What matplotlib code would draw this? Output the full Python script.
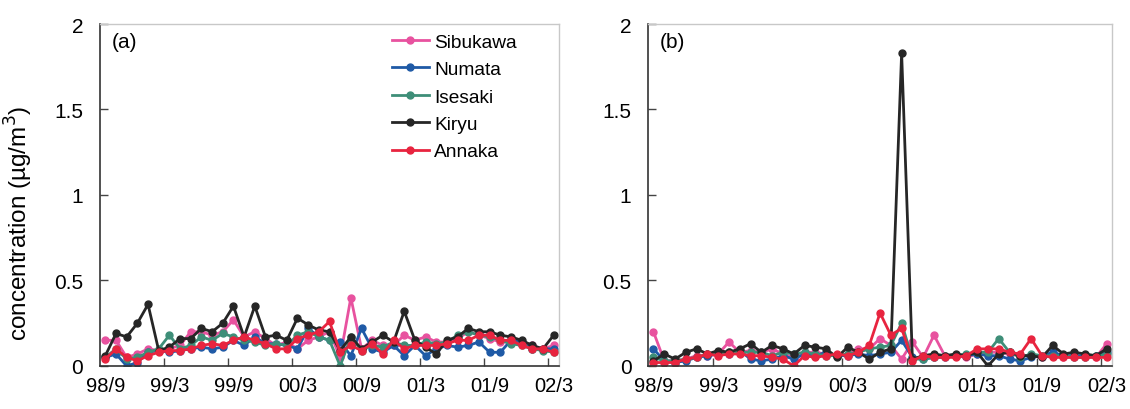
import numpy as np
import matplotlib
matplotlib.use("Agg")
import matplotlib.pyplot as plt

plt.rcParams['font.family'] = ['Liberation Sans', 'DejaVu Sans']

# Month labels (every 6 months), data are monthly from 98/9 to 02/3
tick_labels = ["98/9", "99/3", "99/9", "00/3", "00/9", "01/3", "01/9", "02/3"]
n_months = 43

stations = ["Sibukawa", "Numata", "Isesaki", "Kiryu", "Annaka"]
colors = ["#e8529f", "#1f5aa6", "#3e8e78", "#262626", "#e8243f"]

# Panel (a)
a_sibukawa = [0.15, 0.15, 0.05, 0.07, 0.10, 0.09, 0.10, 0.12, 0.20, 0.20, 0.18, 0.20, 0.27, 0.17, 0.20,
              0.16, 0.12, 0.14, 0.10, 0.15, 0.17, 0.20, 0.05, 0.40, 0.10, 0.15, 0.12, 0.12, 0.18, 0.15,
              0.17, 0.14, 0.14, 0.16, 0.20, 0.18, 0.16, 0.14, 0.14, 0.13, 0.12, 0.10, 0.12]
a_numata = [0.05, 0.07, 0.00, 0.02, 0.08, 0.09, 0.08, 0.09, 0.10, 0.11, 0.10, 0.11, 0.15, 0.12, 0.17,
            0.13, 0.13, 0.12, 0.10, 0.22, 0.17, 0.15, 0.14, 0.06, 0.22, 0.10, 0.08, 0.12, 0.06, 0.12,
            0.06, 0.10, 0.12, 0.11, 0.12, 0.14, 0.08, 0.08, 0.15, 0.14, 0.10, 0.10, 0.10]
a_isesaki = [0.05, 0.10, 0.04, 0.05, 0.08, 0.10, 0.18, 0.10, 0.12, 0.17, 0.15, 0.19, 0.17, 0.15, 0.14,
             0.12, 0.13, 0.12, 0.18, 0.20, 0.17, 0.15, 0.00, 0.17, 0.09, 0.12, 0.11, 0.14, 0.12, 0.12,
             0.14, 0.13, 0.14, 0.18, 0.20, 0.18, 0.17, 0.15, 0.13, 0.12, 0.10, 0.09, 0.08]
a_kiryu = [0.06, 0.19, 0.17, 0.25, 0.36, 0.09, 0.11, 0.16, 0.16, 0.22, 0.20, 0.25, 0.35, 0.17, 0.35,
           0.17, 0.18, 0.15, 0.28, 0.24, 0.21, 0.20, 0.09, 0.17, 0.10, 0.14, 0.18, 0.14, 0.32, 0.15,
           0.11, 0.07, 0.15, 0.17, 0.22, 0.20, 0.20, 0.18, 0.17, 0.15, 0.12, 0.10, 0.18]
a_annaka = [0.04, 0.10, 0.05, 0.03, 0.06, 0.08, 0.09, 0.09, 0.10, 0.12, 0.13, 0.12, 0.15, 0.17, 0.15,
            0.13, 0.10, 0.10, 0.16, 0.18, 0.20, 0.26, 0.08, 0.12, 0.09, 0.13, 0.07, 0.15, 0.10, 0.12,
            0.12, 0.12, 0.13, 0.15, 0.15, 0.18, 0.18, 0.15, 0.15, 0.12, 0.10, 0.10, 0.08]

# Panel (b)
b_sibukawa = [0.20, 0.03, 0.03, 0.04, 0.06, 0.06, 0.07, 0.14, 0.08, 0.09, 0.08, 0.10, 0.07, 0.05, 0.08,
              0.08, 0.07, 0.06, 0.07, 0.10, 0.10, 0.16, 0.12, 0.04, 0.14, 0.05, 0.18, 0.06, 0.06, 0.05,
              0.07, 0.08, 0.08, 0.07, 0.06, 0.06, 0.05, 0.06, 0.05, 0.05, 0.05, 0.05, 0.13]
b_numata = [0.10, 0.03, 0.02, 0.03, 0.05, 0.06, 0.07, 0.07, 0.09, 0.04, 0.03, 0.04, 0.06, 0.04, 0.07,
            0.06, 0.08, 0.06, 0.06, 0.07, 0.06, 0.07, 0.08, 0.15, 0.05, 0.04, 0.05, 0.05, 0.06, 0.06,
            0.07, 0.06, 0.06, 0.04, 0.03, 0.05, 0.06, 0.08, 0.06, 0.06, 0.06, 0.06, 0.08]
b_isesaki = [0.05, 0.03, 0.03, 0.04, 0.05, 0.07, 0.07, 0.08, 0.08, 0.08, 0.08, 0.06, 0.08, 0.07, 0.08,
             0.07, 0.06, 0.06, 0.07, 0.08, 0.10, 0.11, 0.12, 0.25, 0.04, 0.04, 0.05, 0.06, 0.06, 0.07,
             0.08, 0.08, 0.16, 0.08, 0.05, 0.07, 0.06, 0.06, 0.06, 0.05, 0.05, 0.06, 0.07]
b_kiryu = [0.03, 0.07, 0.04, 0.08, 0.10, 0.07, 0.09, 0.08, 0.10, 0.13, 0.08, 0.12, 0.10, 0.07, 0.12,
           0.11, 0.10, 0.05, 0.11, 0.08, 0.04, 0.08, 0.10, 1.83, 0.04, 0.06, 0.07, 0.06, 0.07, 0.06,
           0.08, 0.00, 0.07, 0.08, 0.06, 0.06, 0.05, 0.12, 0.07, 0.08, 0.07, 0.06, 0.10]
b_annaka = [0.02, 0.02, 0.02, 0.04, 0.05, 0.07, 0.06, 0.07, 0.07, 0.06, 0.06, 0.05, 0.04, 0.00, 0.06,
            0.05, 0.06, 0.07, 0.06, 0.08, 0.12, 0.31, 0.18, 0.22, 0.03, 0.06, 0.05, 0.05, 0.05, 0.06,
            0.10, 0.10, 0.10, 0.08, 0.07, 0.16, 0.06, 0.05, 0.05, 0.05, 0.05, 0.05, 0.05]

panel_a = [a_sibukawa, a_numata, a_isesaki, a_kiryu, a_annaka]
panel_b = [b_sibukawa, b_numata, b_isesaki, b_kiryu, b_annaka]

fig = plt.figure(figsize=(11.3, 4.1), dpi=100)
ax_a = fig.add_axes([0.0885, 0.105, 0.4062, 0.834])
ax_b = fig.add_axes([0.5735, 0.105, 0.4106, 0.834])

x = np.arange(n_months)
for ax, series, tag in [(ax_a, panel_a, "(a)"), (ax_b, panel_b, "(b)")]:
    for name, vals, c in zip(stations, series, colors):
        ax.plot(x, vals, color=c, lw=2.0, marker="o", ms=5, label=name)
    ax.set_xlim(-0.5, n_months - 0.5)
    ax.set_ylim(0, 2)
    ax.set_yticks([0, 0.5, 1, 1.5, 2])
    ax.set_yticklabels(["0", "0.5", "1", "1.5", "2"])
    ax.set_xticks(np.arange(0, n_months, 6))
    ax.set_xticklabels(tick_labels)
    ax.set_xticks(np.arange(5.5, n_months - 1, 6), minor=True)
    ax.tick_params(axis="x", which="major", length=0, pad=7, labelsize=14.5)
    ax.tick_params(axis="x", which="minor", direction="in", length=6, width=1, color="#444444")
    ax.tick_params(axis="y", direction="in", length=6, width=1, color="#444444", labelsize=15, pad=12)
    for s in ["left", "bottom"]:
        ax.spines[s].set_color("#333333")
        ax.spines[s].set_linewidth(1.2)
    for s in ["top", "right"]:
        ax.spines[s].set_color("#c8c8c8")
        ax.spines[s].set_linewidth(1.0)
    ax.text(0.026, 0.95, tag, transform=ax.transAxes, fontsize=15, va="center", ha="left")

ax_a.set_ylabel("concentration (µg/m$^3$)", fontsize=17.5)
ax_a.yaxis.set_label_coords(-0.142, 0.42)
ax_a.legend(loc="upper left", bbox_to_anchor=(0.62, 0.995), frameon=False, fontsize=13.8,
            handlelength=1.9, handletextpad=0.3, labelspacing=0.52, borderaxespad=0)

fig.savefig("out.png", dpi=100)
